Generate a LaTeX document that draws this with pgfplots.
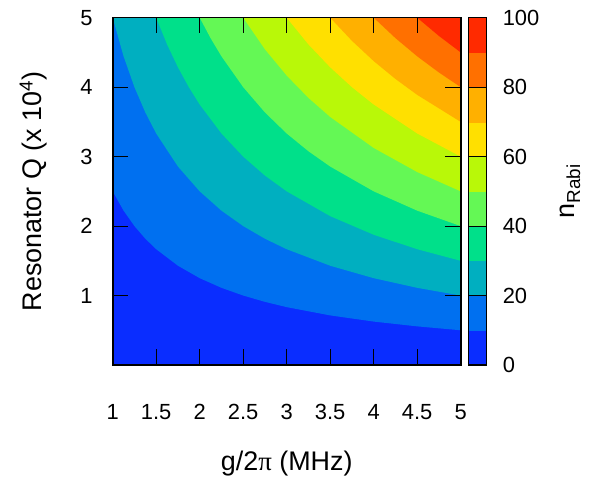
\documentclass[border=0pt]{standalone}
\usepackage{pgfplots}
\pgfplotsset{compat=1.18}
\usetikzlibrary{calc}
\usepackage{fontspec}
\setmainfont{Liberation Sans}
\newfontfamily\symfont{Liberation Serif}

% band colours, 0-10 ... 90-100
\definecolor{c0}{RGB}{10,45,255}
\definecolor{c1}{RGB}{0,112,240}
\definecolor{c2}{RGB}{0,175,192}
\definecolor{c3}{RGB}{0,224,138}
\definecolor{c4}{RGB}{100,248,85}
\definecolor{c5}{RGB}{185,248,8}
\definecolor{c6}{RGB}{255,224,0}
\definecolor{c7}{RGB}{255,176,0}
\definecolor{c8}{RGB}{255,112,0}
\definecolor{c9}{RGB}{255,42,0}

\begin{document}
\begin{tikzpicture}
\path[use as bounding box] (-112.7bp,-118bp) rectangle (494.3bp,365bp);
\begin{axis}[
    name=main,
    at={(0,0)}, anchor=south west,
    scale only axis,
    width=348bp, height=347.3bp,
    xmin=1, xmax=5, ymin=0, ymax=5,
    xtick={1,1.5,2,2.5,3,3.5,4,4.5,5},
    ytick={1,2,3,4,5},
    tick align=inside,
    major tick length=15.7bp,
    tick style={black, line width=1bp},
    axis line style={black, line width=1.6bp},
    axis on top,
    /pgf/number format/assume math mode=true,
    tick label style={font=\fontsize{22}{26}\selectfont},
    xticklabel style={anchor=base, inner sep=0pt, yshift=-54bp},
    yticklabel style={anchor=east, inner sep=0pt, xshift=-20bp},
    every axis x label/.style={at={([yshift=-105bp]axis description cs:0.5,0)},
        anchor=base, font=\fontsize{27}{32}\selectfont},
    every axis y label/.style={at={([xshift=-71bp]axis description cs:0,0.5)},
        anchor=base, rotate=90, font=\fontsize{27}{32}\selectfont},
    xlabel={g/2{\symfont π} (MHz)},
    ylabel={Resonator Q (x 10\textsuperscript{4})},
    colormap={rabi}{rgb255=(10,45,255) rgb255=(0,112,240) rgb255=(0,175,192)
        rgb255=(0,224,138) rgb255=(100,248,85) rgb255=(185,248,8)
        rgb255=(255,224,0) rgb255=(255,176,0) rgb255=(255,112,0)
        rgb255=(255,42,0)},
    colormap access=piecewise constant,
    point meta min=0, point meta max=100,
    colorbar,
    colorbar style={
        name=cb,
        at={(parent axis.north east)}, anchor=north west, xshift=-1bp,
        scale only axis, width=18.4bp, height=347.3bp,
        ytick={0,20,40,60,80,100},
        yticklabel pos=right,
        major tick length=0pt,
        /pgf/number format/assume math mode=true,
        yticklabel style={anchor=west, inner sep=0pt, xshift=16bp,
            font=\fontsize{22}{26}\selectfont},
        every axis y label/.style={at={([xshift=88.3bp]axis description cs:1,0.5)},
            anchor=base, rotate=90, font=\fontsize{27}{32}\selectfont},
        ylabel={n\textsubscript{Rabi}},
    },
]
% n = 0-10 background
\addplot[draw=none, fill=c0] coordinates {(1,0) (5,0) (5,6) (1,6)};
% n >= 10
\addplot[draw=none, fill=c1] coordinates {
    (1,2.5) (1.125,2.222) (1.25,2.0) (1.375,1.818) (1.5,1.667) (1.75,1.429)
    (2,1.25) (2.25,1.111) (2.5,1.0) (2.75,0.909) (3,0.833) (3.5,0.714)
    (4,0.625) (4.5,0.556) (5,0.5) (5,6) (1,6)};
% n >= 20
\addplot[draw=none, fill=c2] coordinates {
    (1,5.0) (1.125,4.444) (1.25,4.0) (1.375,3.636) (1.5,3.333) (1.75,2.857)
    (2,2.5) (2.25,2.222) (2.5,2.0) (2.75,1.818) (3,1.667) (3.5,1.429)
    (4,1.25) (4.5,1.111) (5,1.0) (5,6) (1,6)};
% n >= 30
\addplot[draw=none, fill=c3] coordinates {
    (1.4,5.357) (1.5,5.0) (1.625,4.615) (1.75,4.286) (1.875,4.0) (2,3.75)
    (2.25,3.333) (2.5,3.0) (2.75,2.727) (3,2.5) (3.5,2.143) (4,1.875)
    (4.5,1.667) (5,1.5) (5,6) (1.4,6)};
% n >= 40
\addplot[draw=none, fill=c4] coordinates {
    (1.9,5.263) (2,5.0) (2.125,4.706) (2.25,4.444) (2.5,4.0) (2.75,3.636)
    (3,3.333) (3.25,3.077) (3.5,2.857) (4,2.5) (4.5,2.222) (5,2.0)
    (5,6) (1.9,6)};
% n >= 50
\addplot[draw=none, fill=c5] coordinates {
    (2.4,5.208) (2.5,5.0) (2.75,4.545) (3,4.167) (3.25,3.846) (3.5,3.571)
    (4,3.125) (4.5,2.778) (5,2.5) (5,6) (2.4,6)};
% n >= 60
\addplot[draw=none, fill=c6] coordinates {
    (2.9,5.172) (3,5.0) (3.25,4.615) (3.5,4.286) (3.75,4.0) (4,3.75)
    (4.5,3.333) (5,3.0) (5,6) (2.9,6)};
% n >= 70
\addplot[draw=none, fill=c7] coordinates {
    (3.4,5.147) (3.5,5.0) (3.75,4.667) (4,4.375) (4.25,4.118) (4.5,3.889)
    (5,3.5) (5,6) (3.4,6)};
% n >= 80
\addplot[draw=none, fill=c8] coordinates {
    (3.9,5.128) (4,5.0) (4.25,4.706) (4.5,4.444) (4.75,4.211) (5,4.0)
    (5,6) (3.9,6)};
% n >= 90
\addplot[draw=none, fill=c9] coordinates {
    (4.4,5.114) (4.5,5.0) (4.75,4.737) (5,4.5) (5,6) (4.4,6)};
\end{axis}
% frames and colour-bar separators (every 20)
\draw[black, line width=1.6bp] (main.south west) rectangle (main.north east);
\foreach \f in {0.2,0.4,0.6,0.8}
    \draw[black, line width=1.1bp] ($(cb.south west)!\f!(cb.north west)$) -- ($(cb.south east)!\f!(cb.north east)$);
\draw[black, line width=1.4bp] (cb.south west) rectangle (cb.north east);
\end{tikzpicture}
\end{document}
